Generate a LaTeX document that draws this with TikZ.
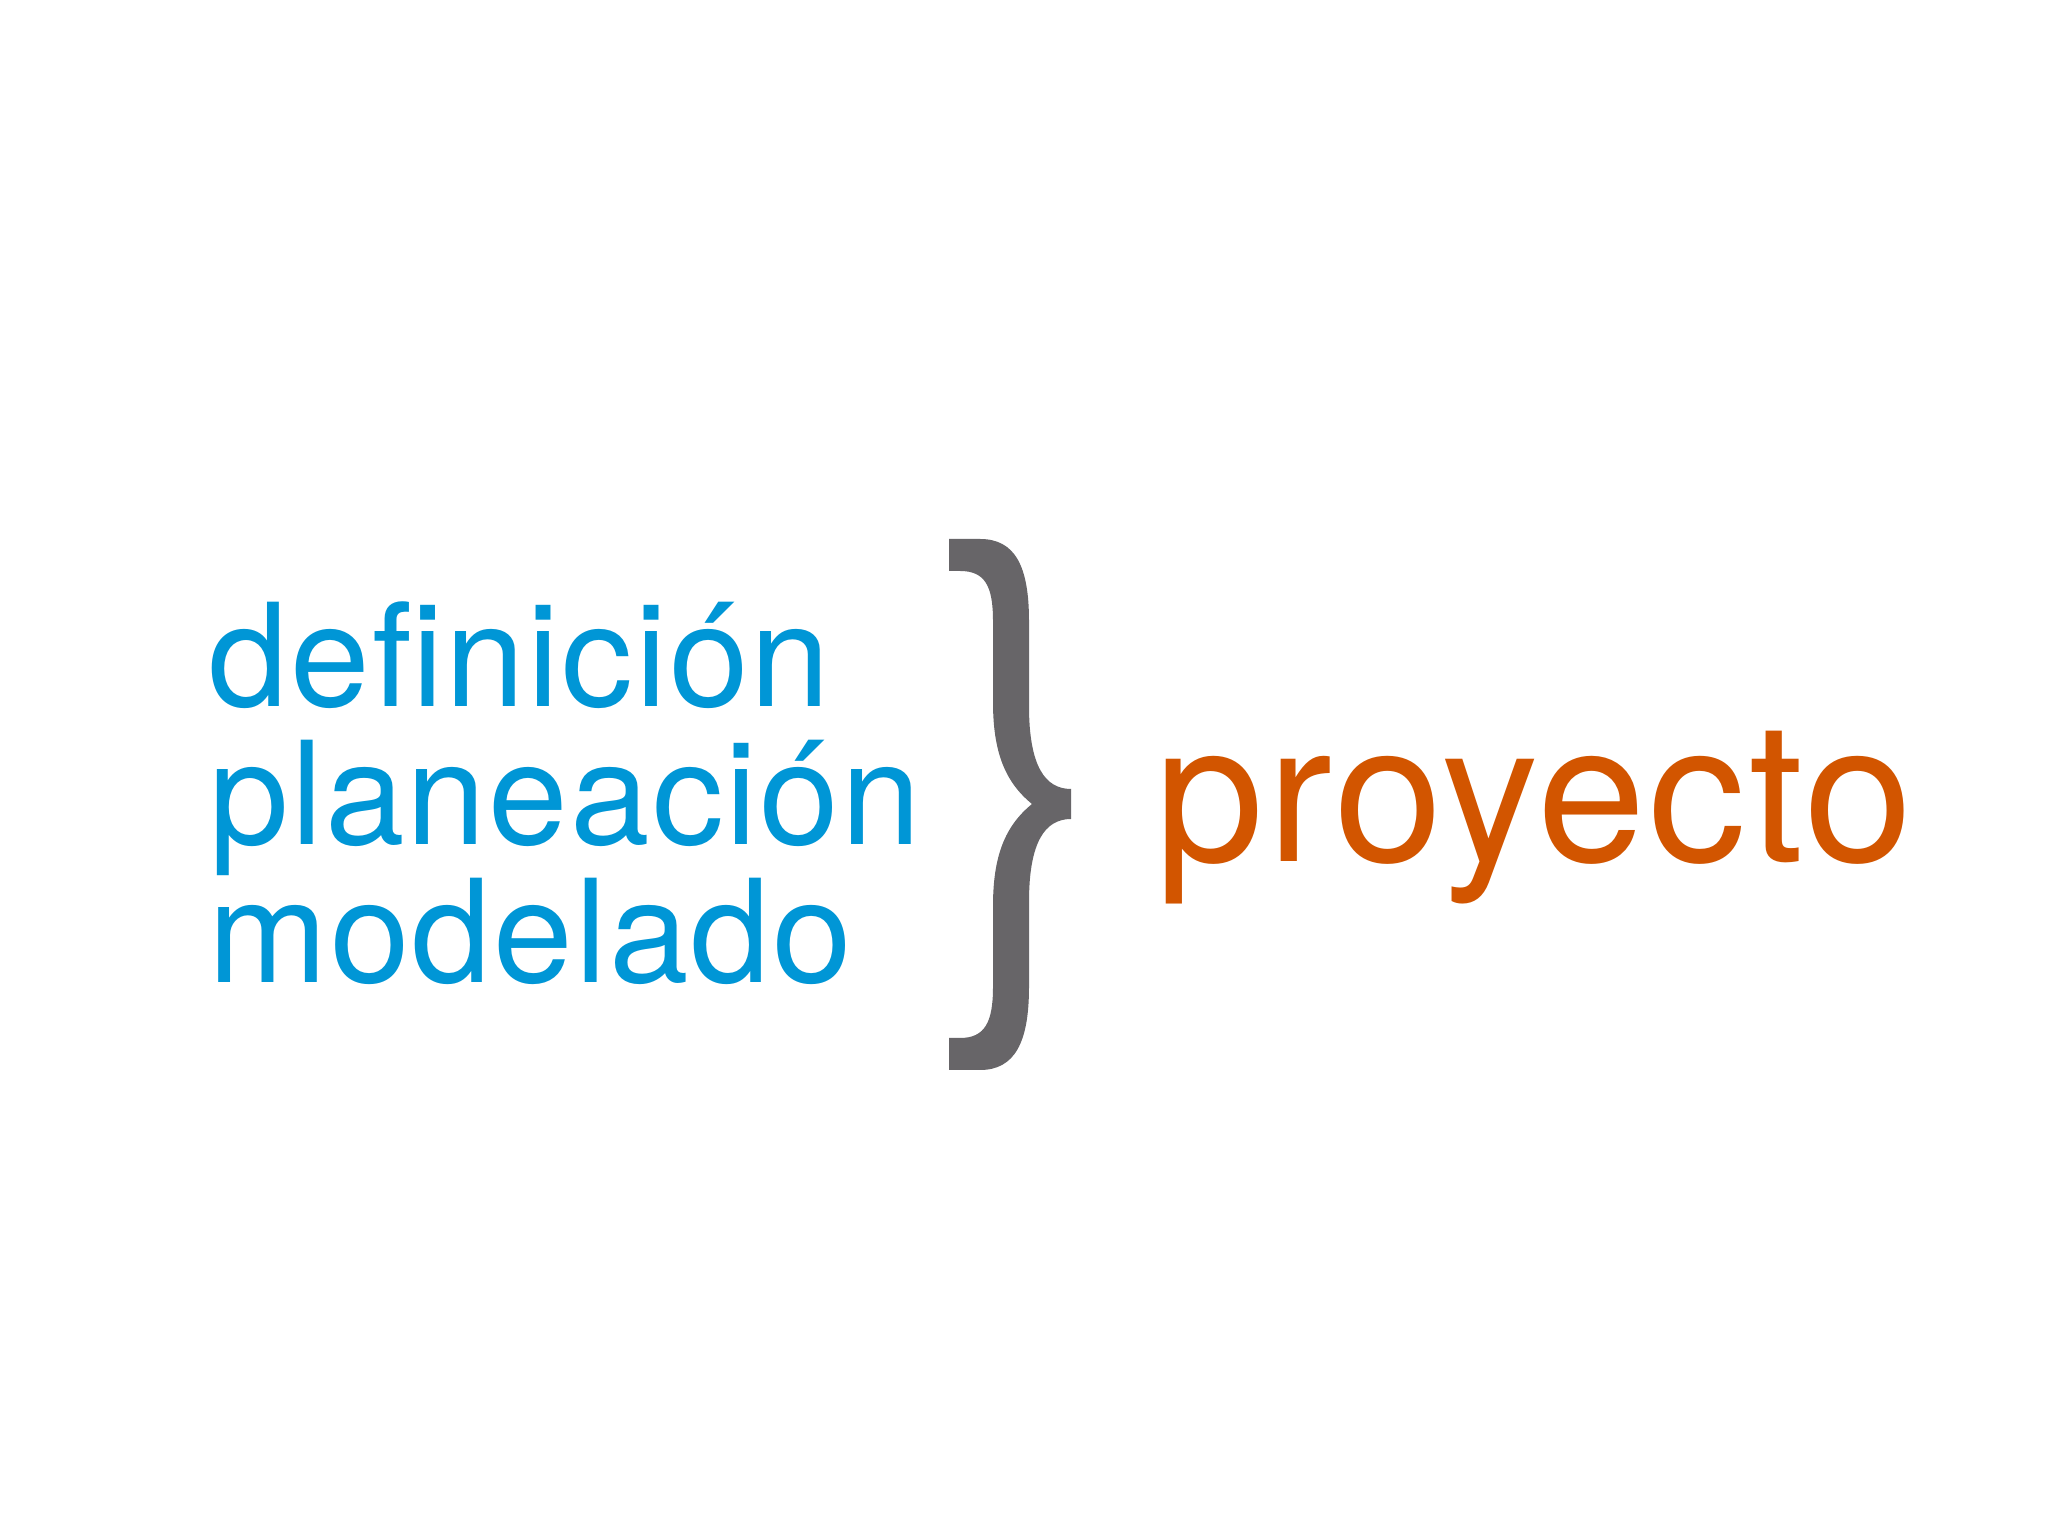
\documentclass[tikz,border=0pt]{standalone}
\usepackage{fontspec}
\setmainfont{TeX Gyre Heros}[LetterSpace=1.5]
\definecolor{azul}{RGB}{0,150,214}
\definecolor{gris}{RGB}{103,101,104}
\definecolor{naranja}{RGB}{210,85,0}
\begin{document}
\begin{tikzpicture}[x=0.01cm,y=0.01cm,
	palabra/.style={anchor=base west,inner sep=0pt,text=azul,font=\fontsize{40.7pt}{48pt}\selectfont},
	meta/.style={anchor=base west,inner sep=0pt,text=naranja,font=\fontsize{55.5pt}{64pt}\selectfont}]
	\fill[white] (0,0) rectangle (2048,1536);
	\useasboundingbox (0,0) rectangle (2048,1536);

	\node[palabra] (definicion) at (208,829) {definición};
	\node[palabra] (planeacion) at (209,691) {planeación};
	\node[palabra] (modelado) at (208,553) {modelado};

	\node[meta] (proyecto) at (1155,674) {proyecto};

	\fill[gris] (949,997) -- (980,997) .. controls (1015,997) and (1029,970) .. (1029,915)
		-- (1029,830) .. controls (1029,770) and (1045,747) .. (1071,747)
		-- (1071,717) .. controls (1045,717) and (1029,694) .. (1029,634)
		-- (1029,549) .. controls (1029,494) and (1015,466) .. (980,466)
		-- (949,466) -- (949,498) -- (960,498) .. controls (985,498) and (993,514) .. (993,549)
		-- (993,630) .. controls (993,680) and (1005,710) .. (1032,732)
		.. controls (1005,754) and (993,784) .. (993,834)
		-- (993,915) .. controls (993,950) and (985,965) .. (960,965)
		-- (949,965) -- cycle;
\end{tikzpicture}
\end{document}
